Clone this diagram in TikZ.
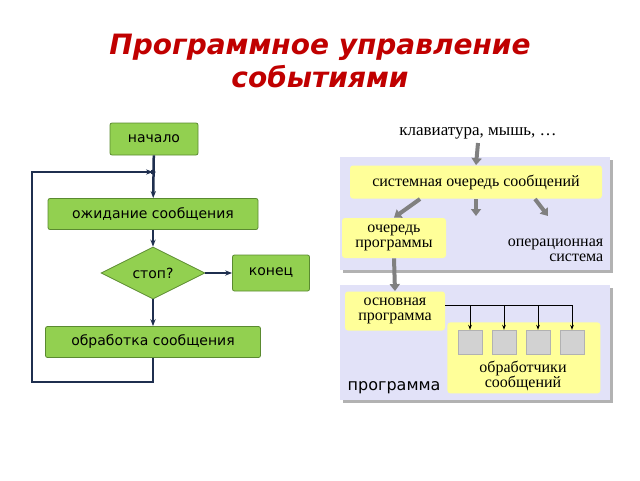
\documentclass[tikz,border=0pt]{standalone}
\usepackage{fontspec}
\setmainfont{Liberation Serif}
\setsansfont{DejaVu Sans}
\usetikzlibrary{shapes.geometric,positioning,arrows.meta}
\definecolor{stepgreen}{HTML}{92D050}
\definecolor{stepedge}{HTML}{5A8A30}
\definecolor{navy}{HTML}{1F2F4F}
\definecolor{panel}{HTML}{E2E2F8}
\definecolor{pale}{HTML}{FFFF99}
\definecolor{titlered}{HTML}{C00000}

\begin{document}
\begin{tikzpicture}[x=1pt,y=-1pt,thick,
    stepbox/.style={draw=stepedge,fill=stepgreen,rounded corners=2pt,font=\sffamily\fontsize{14}{15}\selectfont,inner sep=0pt},
    flow/.style={draw=navy,line width=2.5pt,-{Stealth[length=7pt]}},
    panelbox/.style={fill=panel,draw=none},
    notebox/.style={fill=pale,rounded corners=3pt,align=center,inner sep=0pt,font=\fontsize{16}{15}\selectfont},
    grey arrow/.style={draw=gray,line width=4pt,-{Triangle[length=7pt,width=10pt]}},
    thin arrow/.style={draw=black,line width=0.8pt,-{Stealth[length=5pt]}}]
\useasboundingbox (0,0) rectangle (640,480);

% title
\node[font=\sffamily\bfseries\itshape\fontsize{28}{33}\selectfont,text=titlered,align=center] (title) at (320,61) {Программное управление\\событиями};

% flowchart
\node[stepbox,minimum width=88,minimum height=32] (start) at (154,139) {начало};
\node[stepbox,minimum width=210,minimum height=31] (wait) at (153,214) {ожидание сообщения};
\node[stepbox,diamond,aspect=2,minimum width=104,minimum height=52,rounded corners=0pt] (stop) at (153,273) {стоп?};
\node[stepbox,minimum width=77,minimum height=36] (end) at (271,273) {конец};
\node[stepbox,minimum width=215,minimum height=31] (work) at (153,342) {обработка сообщения};
\coordinate (join) at (153,172);
\coordinate (low) at (153,382);
\coordinate (corner) at (32,382);
\coordinate (top) at (32,172);

\draw[flow] (start) -- (wait);
\draw[flow] (wait) -- (stop);
\draw[flow] (stop) -- (work);
\draw[flow] (stop.east) -- (end);
\draw[flow] (work) -- (low) -- (corner) -- (top) -- (join);
\fill[navy] (join) circle (2.5);

% right part
\node[font=\fontsize{17}{17}\selectfont] (input) at (478,133) {клавиатура, мышь, \dots};
\fill[gray!60] (343,160) rectangle (613,273);
\fill[panelbox] (340,157) rectangle (610,270);
\fill[gray!60] (343,288) rectangle (613,403);
\fill[panelbox] (340,285) rectangle (610,400);

\node[notebox,minimum width=252,minimum height=33] (sysq) at (476,182) {системная очередь сообщений};
\node[notebox,minimum width=104,minimum height=40] (progq) at (394,238) {очередь\\программы};
\node[align=right,anchor=east,font=\fontsize{16}{15}\selectfont] (os) at (607,250) {операционная\\система};
\node[notebox,minimum width=100,minimum height=39] (main) at (395,311) {основная\\программа};
\node[notebox,minimum width=153,minimum height=71,anchor=north west] (handlers) at (447,322) {};
\node[align=center,font=\fontsize{16}{14}\selectfont] (hlabel) at (523,376) {обработчики\\сообщений};
\node[font=\sffamily\fontsize{16}{16}\selectfont,anchor=west] (prog) at (344,388) {программа};

\foreach \i/\x in {1/470,2/504,3/538,4/572}
  \node[fill=gray!35,draw=gray!60,thin,minimum size=24,inner sep=0pt] (h\i) at (\x,342) {};

\coordinate (feed) at (478,143);
\draw[grey arrow] (feed) -- (sysq.north);
\draw[grey arrow] (420,199) -- (progq.north);
\draw[grey arrow] (476,199) -- (476,216);
\draw[grey arrow] (535,199) -- (548,216);
\draw[grey arrow] (progq.south) -- (main.north);

\coordinate (bus) at (572,305);
\draw[line width=0.8pt] (main.east |- bus) -- (bus);
\foreach \i/\x in {1/470,2/504,3/538,4/572}
  \draw[thin arrow] (\x,305) -- (h\i.north);
\end{tikzpicture}
\end{document}
